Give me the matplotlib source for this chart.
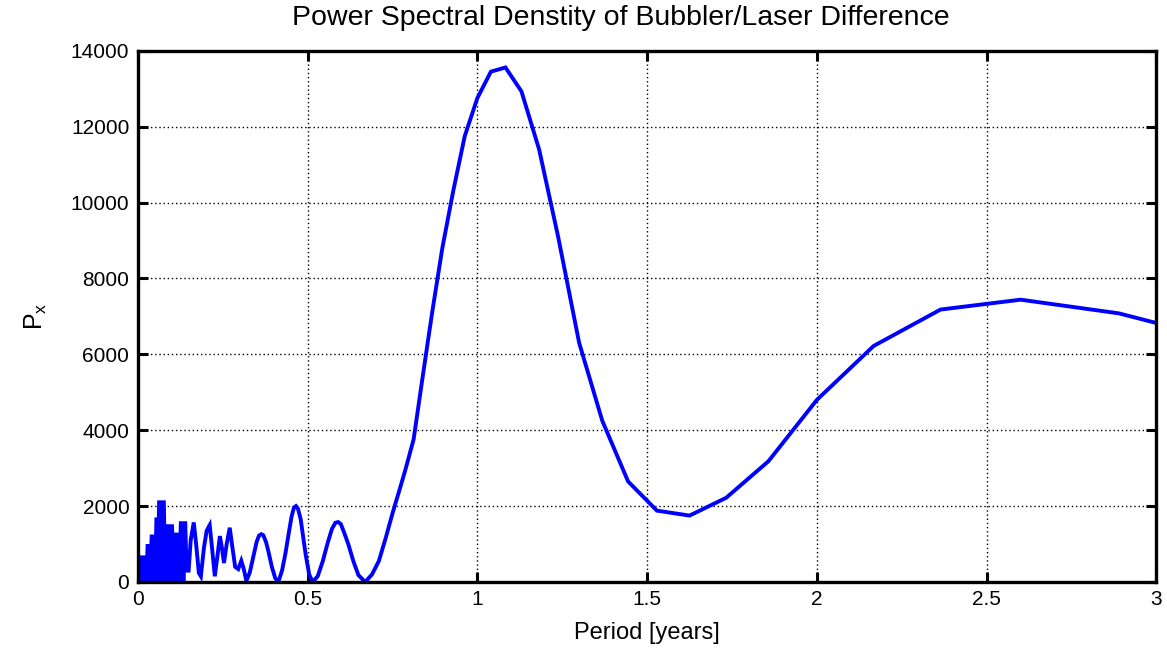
import numpy as np
import matplotlib.pyplot as plt

plt.rcParams['font.family'] = ['Liberation Sans', 'DejaVu Sans']
plt.rcParams['mathtext.fontset'] = 'custom'
plt.rcParams['mathtext.rm'] = 'Liberation Sans'

# period [years] and power values
period = [
    0.004, 0.028, 0.029, 0.040, 0.041, 0.054, 0.055, 0.062, 0.063, 0.077,
    0.080, 0.087, 0.089, 0.101, 0.102, 0.126, 0.127, 0.140, 0.144, 0.150,
    0.156, 0.165, 0.172, 0.180, 0.186, 0.195, 0.203, 0.212, 0.220, 0.227,
    0.235, 0.242, 0.248, 0.254, 0.262, 0.271, 0.279, 0.287, 0.296, 0.305,
    0.312, 0.320, 0.330, 0.340, 0.350, 0.357, 0.364, 0.370, 0.378, 0.385,
    0.395, 0.405, 0.414, 0.425, 0.435, 0.445, 0.453, 0.460, 0.466, 0.472,
    0.480, 0.487, 0.495, 0.505, 0.515, 0.530, 0.545, 0.560, 0.572, 0.582,
    0.590, 0.598, 0.608, 0.620, 0.635, 0.650, 0.670, 0.690, 0.710, 0.730,
    0.750, 0.770, 0.788, 0.8125, 0.839, 0.867, 0.897, 0.929, 0.963, 1.000,
    1.040, 1.083, 1.130, 1.182, 1.238, 1.300, 1.368, 1.444, 1.529, 1.625,
    1.733, 1.857, 2.000, 2.167, 2.364, 2.600, 2.889, 3.250,
]
power = [
    650, 650, 950, 950, 1200, 1200, 1650, 1650, 2100, 2100,
    500, 500, 1470, 1470, 1250, 1250, 1550, 1550, 300, 300,
    1100, 1570, 1000, 240, 150, 900, 1350, 1500, 800, 150,
    700, 1210, 900, 500, 1000, 1430, 900, 400, 340, 560,
    350, 30, 250, 650, 1050, 1220, 1260, 1230, 1050, 800,
    400, 100, 0, 300, 750, 1300, 1720, 1960, 2000, 1930,
    1650, 1200, 700, 200, 0, 150, 550, 1050, 1400, 1560,
    1580, 1530, 1300, 1000, 550, 180, 0, 200, 550, 1150,
    1800, 2400, 2950, 3760, 5400, 7100, 8800, 10300, 11750, 12750,
    13450, 13560, 12930, 11400, 9100, 6300, 4250, 2650, 1880, 1750,
    2220, 3180, 4800, 6220, 7180, 7440, 7080, 6250,
]

xticks = [0, 0.5, 1, 1.5, 2, 2.5, 3]
xtick_labels = ['0', '0.5', '1', '1.5', '2', '2.5', '3']
yticks = [0, 2000, 4000, 6000, 8000, 10000, 12000, 14000]

period = np.array(period)
power = np.array(power)

fig = plt.figure(figsize=(11.67, 6.51), dpi=100)
ax = fig.add_axes([0.118, 0.106, 0.873, 0.816])

# very dense oscillations at short periods show up as a solid blue block
ax.fill_between(period, 0, power, where=period <= 0.141, color='blue', lw=0)
ax.plot(period, power, color='blue', lw=2.8, solid_joinstyle='miter')

ax.set_xlim(0, 3)
ax.set_ylim(0, 14000)
ax.set_xticks(xticks)
ax.set_xticklabels(xtick_labels)
ax.set_yticks(yticks)

ax.grid(True, color='black', linestyle=(0, (1, 2.0)), linewidth=1.0)
ax.tick_params(direction='in', top=True, right=True, length=7, width=2.2,
               labelsize=15, pad=6)
for s in ax.spines.values():
    s.set_linewidth(2.4)

fig.text(0.532, 1 - 18 / 651, 'Power Spectral Denstity of Bubbler/Laser Difference',
         fontsize=20.5, ha='center', va='center')
ax.set_xlabel('Period [years]', fontsize=17, labelpad=9)
ax.set_ylabel(r'$\mathregular{P_x}$', fontsize=18, labelpad=16)

fig.savefig('out.png', dpi=100)
